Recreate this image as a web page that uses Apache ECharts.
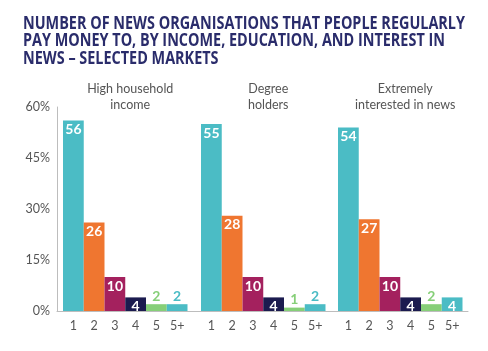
<!DOCTYPE html>
<html>
<head>
	<meta charset="utf-8">
	<title>News organisations paid for</title>
	<script src="https://cdn.jsdelivr.net/npm/echarts@6/dist/echarts.min.js"></script>
	<style>
		html, body { margin: 0; padding: 0; background: #fff; }
		#main { width: 488px; height: 351px; }
	</style>
</head>
<body>
	<div id="main"></div>

<script type="text/javascript">
	// 数据
	var categories = ['1', '2', '3', '4', '5', '5+'];
	var panelTitles = ['High household\nincome', 'Degree\nholders', 'Extremely\ninterested in news'];
	var highIncome = [56, 26, 10, 4, 2, 2];
	var degreeHolders = [55, 28, 10, 4, 1, 2];
	var interested = [54, 27, 10, 4, 2, 4];
	var panelValues = [highIncome, degreeHolders, interested];
	var yMin = 0, yMax = 60, yStep = 15;
	var titleLines = [
		'NUMBER OF NEWS ORGANISATIONS THAT PEOPLE REGULARLY',
		'PAY MONEY TO, BY INCOME, EDUCATION, AND INTEREST IN',
		'NEWS – SELECTED MARKETS'
	];

	var barColors = ['#4bbcc5', '#ef7630', '#a4215e', '#1b1b4f', '#86cf78', '#4bbcc5'];
	var labelFont = 'Lato, "Open Sans", sans-serif';
	var titleFont = 'bold 17px "Open Sans", sans-serif';

	// 标题宽度压缩（参考图用的是窄体字）
	var ctx = document.createElement('canvas').getContext('2d');
	ctx.font = titleFont;
	var titleScale = 442 / ctx.measureText(titleLines[0]).width;

	// 面板位置
	var panelLeft = [63, 201, 338];
	var panelWidth = 124.5;
	var gridTop = 107, gridBottom = 40;

	var grids = [], xAxes = [], yAxes = [], series = [], titles = [];

	// 背景坐标轴（0%~60%，左侧竖线和底线）
	grids.push({left: 57, right: 20, top: gridTop, bottom: gridBottom});
	xAxes.push({
		type: 'value', gridIndex: 0, min: 0, max: 1,
		axisLine: {show: true, lineStyle: {color: '#bdbdbd', width: 1}},
		axisTick: {show: false}, axisLabel: {show: false}, splitLine: {show: false}
	});
	yAxes.push({
		type: 'value', gridIndex: 0, min: yMin, max: yMax, interval: yStep,
		axisLine: {show: true, lineStyle: {color: '#bdbdbd', width: 1}},
		axisTick: {show: false}, splitLine: {show: false},
		axisLabel: {
			formatter: '{value}%', color: '#555', fontSize: 12.5,
			fontFamily: labelFont, margin: 7, padding: [9, 0, 0, 0]
		}
	});

	panelValues.forEach(function(vals, i){
		var g = i + 1;
		grids.push({left: panelLeft[i], width: panelWidth, top: gridTop, bottom: gridBottom});
		xAxes.push({
			type: 'category', gridIndex: g, data: categories,
			axisLine: {show: false}, axisTick: {show: false},
			axisLabel: {color: '#555', fontSize: 12.5, fontFamily: labelFont, margin: 8}
		});
		yAxes.push({
			type: 'value', gridIndex: g, min: yMin, max: yMax, interval: yStep,
			show: false, splitLine: {show: false}
		});
		var data = vals.map(function(v, k){
			var inside = v >= 4;
			return {
				value: v,
				itemStyle: {color: barColors[k]},
				label: {
					position: inside ? 'insideTop' : 'top',
					distance: inside ? 2 : 1,
					color: inside ? '#fff' : barColors[k]
				}
			};
		});
		series.push({
			type: 'bar', xAxisIndex: g, yAxisIndex: g, data: data,
			barCategoryGap: '0%', barGap: '0%',
			label: {show: true, fontSize: 14, fontWeight: 'bold', fontFamily: labelFont},
			animation: false
		});
		titles.push({
			text: panelTitles[i],
			left: panelLeft[i] + panelWidth / 2, top: 76, textAlign: 'center',
			textStyle: {color: '#555', fontSize: 12.5, fontWeight: 'normal', lineHeight: 16, fontFamily: labelFont}
		});
	});

	var myChart = echarts.init(document.getElementById('main'));
	myChart.setOption({
		animation: false,
		title: titles,
		graphic: [{
			type: 'text',
			x: 23, y: 15,
			scaleX: titleScale,
			style: {
				text: titleLines.join('\n'),
				font: titleFont,
				lineHeight: 17.5,
				fill: '#2a2c6b',
				align: 'left',
				verticalAlign: 'top'
			}
		}],
		grid: grids,
		xAxis: xAxes,
		yAxis: yAxes,
		series: series
	});
</script>
</body>
</html>
